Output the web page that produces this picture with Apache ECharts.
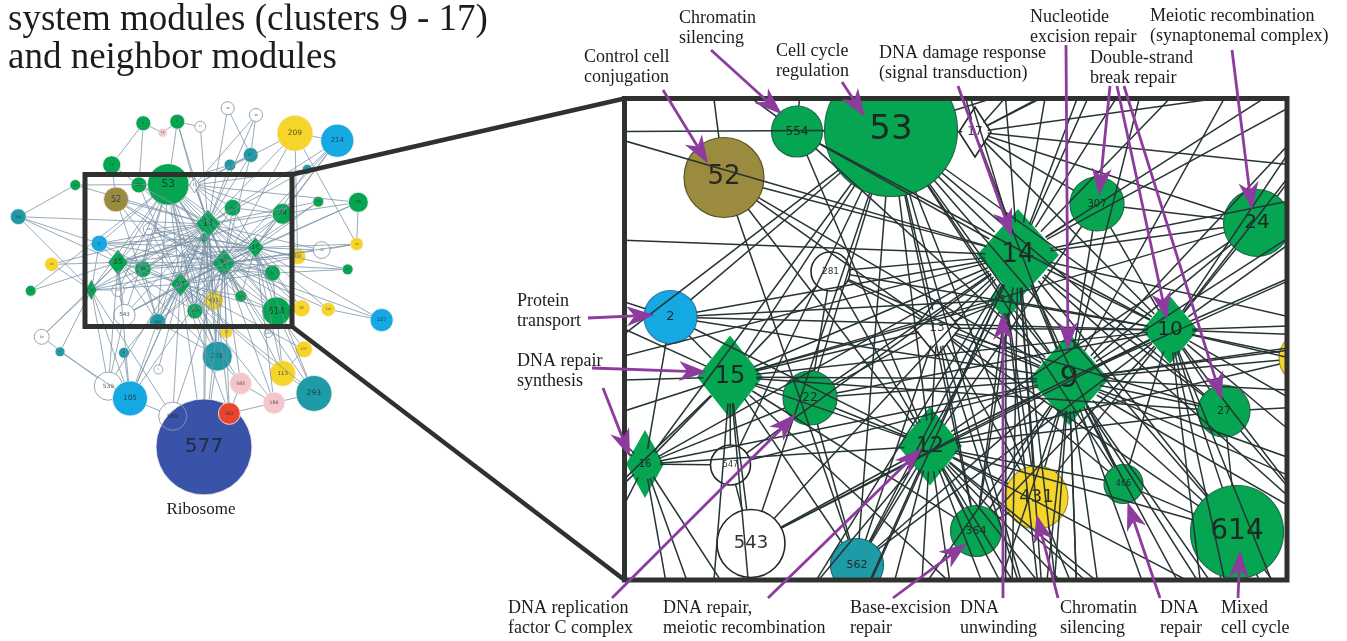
<!DOCTYPE html>
<html>
<head>
<meta charset="utf-8">
<script src="https://cdn.jsdelivr.net/npm/echarts@6/dist/echarts.min.js"></script>
<style>
  html, body { margin: 0; padding: 0; background: #fff; }
  #chart { width: 1347px; height: 641px; }
</style>
</head>
<body>
<div id="chart"></div>
<script>
// Module network of the DNA-repair system modules (clusters 9 - 17) and their neighbours.
// Layout units: pixels of the magnified panel, origin at the panel's top-left corner.

// [label, x, y, size (diameter, or [w, h] for diamonds), group, shape]
const MODULES = [
  ['577', 380.8, 862.9, 307, 'navy'],
  ['569', 280.6, 765.6, 90, 'ring'],
  ['262', 461.8, 757, 70, 'red'],
  ['539', 74.6, 670.5, 90, 'white'],
  ['105', 144, 709.4, 112, 'blue'],
  ['293', 732.8, 693.6, 115, 'teal'],
  ['186', 604.8, 723.4, 70, 'pink'],
  ['583', 498.2, 661.9, 70, 'pink'],
  ['113', 632.6, 630.2, 83, 'yellow'],
  ['137', 700.8, 554.1, 54, 'yellow'],
  ['278', 423.4, 575.4, 96, 'teal'],
  ['263', 586.6, 503.4, 26, 'white'],
  ['7', 234.6, 617.5, 29, 'white'],
  ['41', 124.8, 564.9, 35, 'teal'],
  ['37', -80, 561.7, 32, 'teal'],
  ['89', -138.6, 514.2, 48, 'white'],
  ['227', 949.4, 461.2, 74, 'blue'],
  ['136', 778.6, 427.3, 45, 'yellow'],
  ['82', 693.4, 424.1, 54, 'yellow'],
  ['32', -173.8, 368.4, 35, 'green'],
  ['25', 840.6, 300.5, 35, 'green'],
  ['45', -106.6, 284.7, 45, 'yellow'],
  ['29', 869.4, 220.3, 42, 'yellow'],
  ['30', 757.4, 239.3, 54, 'white'],
  ['196', -213.4, 133.8, 51, 'teal'],
  ['75', 874.6, 88.1, 64, 'green'],
  ['26', 746.6, 86.2, 35, 'green'],
  ['4', 711.4, -16.5, 32, 'teal'],
  ['34', -31, 33.3, 35, 'green'],
  ['5', 464, -30.1, 38, 'teal'],
  ['157', 530.2, -61.8, 48, 'teal'],
  ['214', 807.4, -107.1, 106, 'blue'],
  ['209', 672, -130.6, 115, 'yellow'],
  ['44', 369, -151.5, 35, 'white'],
  ['18', 248.6, -132.5, 29, 'pink'],
  ['8', 295.4, -167.4, 48, 'green'],
  ['6', 186.6, -162.3, 48, 'green'],
  ['38', 547.2, -188.6, 42, 'white'],
  ['46', 456.6, -209.9, 42, 'white'],
  ['21', 85.5, -30.5, 58, 'green'],
  ['53', 266.5, 31.5, 133, 'green'],
  ['554', 172.5, 33, 51, 'green'],
  ['52', 99.5, 79, 80, 'olive'],
  ['281', 206, 173, 39, 'white'],
  ['2', 46, 218.5, 53, 'blue'],
  ['13', 312.5, 229.5, [46, 56], 'white', 'diamond'],
  ['17', 350.5, 33.5, [32, 50], 'white', 'diamond'],
  ['14', 393.5, 156.5, [82, 92], 'green', 'diamond'],
  ['11', 381.5, 201.5, [34, 42], 'green', 'diamond'],
  ['307', 472.5, 105.5, 54, 'green'],
  ['24', 632.5, 124.5, 67, 'green'],
  ['10', 545.5, 231.5, [56, 68], 'green', 'diamond'],
  ['9', 444.5, 280.5, [80, 92], 'green', 'diamond'],
  ['27', 599.5, 312.5, 52, 'green'],
  ['354', 680.5, 259.5, 52, 'yellow'],
  ['431', 412, 399, 63, 'yellow'],
  ['466', 499, 385.5, 39, 'green'],
  ['364', 351.5, 432.5, 51, 'green'],
  ['614', 612.5, 433.5, 93, 'green'],
  ['35', 452.5, 499.5, 40, 'yellow'],
  ['15', 105.5, 278.5, [66, 83], 'green', 'diamond'],
  ['22', 185.5, 299.5, 54, 'green'],
  ['16', 20.5, 365.5, [38, 68], 'green', 'diamond'],
  ['547', 106, 366.5, 40, 'white'],
  ['543', 126.5, 445, 68, 'white'],
  ['562', 232.5, 466.5, 53, 'teal'],
  ['12', 305.5, 347.5, [64, 79], 'green', 'diamond']
];

// Interactions, listed per module: [module, [neighbours]]
const LINKS = [
  ['53', ['9','14','12','13','15','22','364','431','466','614','543','562','10','27','11','17','278','547','2','16','554','5','8']],
  ['34', ['53']],
  ['32', ['53']],
  ['554', ['10','14','12','9','6']],
  ['52', ['9','12','14','13','562']],
  ['2', ['15','9','14','12','10','16','11','196']],
  ['281', ['14','9','10','12','13','15','22']],
  ['15', ['22','9','14','12','10','13','16','547','543','562','364','27','24','45','196','32','89','539','105','278']],
  ['22', ['9','14','12','10','16','13','562']],
  ['16', ['14','9','12','547','196','45','89','37','539','105','569']],
  ['547', ['543','9','14']],
  ['543', ['14','9','12','10','539']],
  ['562', ['12','9','14','10','105','278']],
  ['12', ['9','14','10','13','364','431','466','614','27','24','307','278','577','583','186','113','293','569','105','137','41','7','35','262','354']],
  ['9', ['14','10','11','13','27','24','307','431','466','364','614','354','278','577','113','209','214','75','82','293','186','583','157','30','29','26','262','569','105','17','35','136','227','25']],
  ['14', ['10','11','13','17','307','24','27','431','364','466','614','278','577','209','214','157','5','8','38','26','30','82','105','539','34','196','45','262','46','44','4']],
  ['10', ['307','24','27','614','354','466','431','30','29','25','136','82','227','214','75','26','4','293','113','186','13','17','11','364']],
  ['13', ['431','364','466','27','614','562','278','11']],
  ['17', ['24','307','38','157','8','209','4','75']],
  ['11', ['431','364','562','278','577','15']],
  ['466', ['614']], ['431', ['364','35']], ['27', ['614','25','82']], ['307', ['24']],
  ['6', ['18','21']], ['8', ['18','44']], ['46', ['157']], ['38', ['157']], ['157', ['5']],
  ['209', ['354','214','29']], ['214', ['24','4']], ['75', ['24','29']],
  ['105', ['539','37','569','41']], ['539', ['89']], ['262', ['577','583','186']],
  ['186', ['293','583']], ['113', ['293','614','137']], ['278', ['577','583']],
  ['263', ['614','9']], ['137', ['614']], ['293', ['614']], ['136', ['227']],
  ['30', ['29']], ['21', ['554','52']], ['196', ['34']]
];

// Functional annotations: label lines and the modules they point at
const CALLOUTS = [
  { text: ['Control cell', 'conjugation'], at: [584, 57], arrows: [{ from: [663, 90], to: '52', off: [-16, -14] }] },
  { text: ['Chromatin', 'silencing'], at: [679, 18], arrows: [{ from: [711, 50], to: '554', off: [-15, -17] }] },
  { text: ['Cell cycle', 'regulation'], at: [776, 51], arrows: [{ from: [842, 82], to: '53', off: [-26, -13] }] },
  { text: ['DNA damage response', '(signal transduction)'], at: [879, 53], arrows: [{ from: [958, 86], to: '14', off: [-6, -18] }] },
  { text: ['Nucleotide', 'excision repair'], at: [1030, 17], arrows: [{ from: [1066, 45], to: '9', off: [-1, -29] }] },
  { text: ['Meiotic recombination', '(synaptonemal complex)'], at: [1150, 16], arrows: [{ from: [1232, 50], to: '24', off: [-5, -13] }] },
  { text: ['Double-strand', 'break repair'], at: [1090, 58], arrows: [
      { from: [1110, 86], to: '307', off: [2, -8] },
      { from: [1117, 86], to: '10', off: [-3, -10] },
      { from: [1124, 86], to: '27', off: [-2, -11] }] },
  { text: ['Protein', 'transport'], at: [517, 301], arrows: [{ from: [588, 318], to: '2', off: [-16, -2] }] },
  { text: ['DNA repair', 'synthesis'], at: [517, 361], arrows: [
      { from: [592, 368], to: '15', off: [-23, -5] },
      { from: [603, 388], to: '16', off: [-15, -7] }] },
  { text: ['DNA replication', 'factor C complex'], at: [508, 608], arrows: [{ from: [612, 598], to: '22', off: [-14, 16] }] },
  { text: ['DNA repair,', 'meiotic recombination'], at: [663, 608], arrows: [{ from: [768, 598], to: '12', off: [-8, 2] }] },
  { text: ['Base-excision', 'repair'], at: [850, 608], arrows: [{ from: [893, 598], to: '364', off: [-9, 12] }] },
  { text: ['DNA', 'unwinding'], at: [960, 608], arrows: [{ from: [1003, 598], to: '11', off: [-3, 12] }] },
  { text: ['Chromatin', 'silencing'], at: [1060, 608], arrows: [{ from: [1058, 598], to: '431', off: [0, 17] }] },
  { text: ['DNA', 'repair'], at: [1160, 608], arrows: [{ from: [1160, 598], to: '466', off: [4, 18] }] },
  { text: ['Mixed', 'cell cycle'], at: [1221, 608], arrows: [{ from: [1238, 598], to: '614', off: [3, 18] }] }
];

const TITLE_LINES = ['system modules (clusters 9 - 17)', 'and neighbor modules'];
const OVERVIEW_CAPTION = 'Ribosome';

// ---------- presentation ----------
const PANEL = { left: 624.5, top: 98.5, width: 662.5, height: 481.5 };   // magnified view
const INSET = { left: 85, top: 174.5, width: 207, height: 152 };          // its outline in the overview
const SPAN_X = PANEL.width, SPAN_Y = PANEL.height;

const FILL = {
  green: '#05a552', olive: '#9b8b3e', blue: '#14a9e3', teal: '#1f9ba7', yellow: '#f6d52b',
  pink: '#f2c6ca', red: '#e8452f', navy: '#3853a7', white: '#ffffff', ring: 'rgba(0,0,0,0)'
};
const EDGE_STROKE = {
  green: '#1f6a45', olive: '#5e5327', blue: '#2a7ea6', teal: '#1d6d76', yellow: '#a89428',
  pink: '#c79aa0', red: '#a8321f', navy: '#2c3f80', white: '#262626', ring: '#9a8aa8'
};
const LABEL_PX = {
  '53': 34, '52': 26, '14': 26, '9': 30, '614': 28, '15': 24, '12': 22, '24': 20, '10': 20,
  '431': 18, '543': 18, '2': 13, '22': 12, '27': 11, '307': 10, '554': 12, '364': 11, '466': 8,
  '562': 11, '547': 8, '281': 9, '13': 12, '16': 10, '11': 9, '17': 12, '354': 12, '35': 10, '21': 12
};

const nodes = MODULES.map(m => {
  const s = Array.isArray(m[3]) ? m[3] : [m[3], m[3]];
  return { id: m[0], x: m[1], y: m[2], w: s[0], h: s[1], group: m[4], shape: m[5] || 'circle' };
});
const byId = {};
nodes.forEach(n => { byId[n.id] = n; });

const edges = [];
const seen = {};
LINKS.forEach(([a, list]) => list.forEach(b => {
  const key = a < b ? a + '|' + b : b + '|' + a;
  if (seen[key] || !byId[a] || !byId[b]) return;
  seen[key] = true;
  edges.push([byId[a], byId[b]]);
}));

// links stop at a circle's rim and a little inside a diamond
function trimOf(n) {
  return n.shape === 'diamond' ? 0.4 * Math.min(n.w, n.h) : n.w / 2;
}

function nodeRenderer(isPanel) {
  return function (params, api) {
    const n = nodes[params.dataIndex];
    const p = api.coord([api.value(0), api.value(1)]);
    const k = api.size([1, 1]);
    const w = n.w * k[0], h = n.h * k[1];
    const fill = FILL[n.group];
    let stroke, lw;
    if (isPanel) {
      stroke = n.shape === 'diamond' && n.group !== 'white' ? null : EDGE_STROKE[n.group];
      lw = n.group === 'white' ? 1.6 : 1.2;
    } else {
      stroke = (n.group === 'white' || n.group === 'ring') ? '#8d9dab' : 'rgba(255,240,240,0.9)';
      lw = 0.9;
    }
    let shape;
    if (n.shape === 'diamond') {
      shape = { type: 'polygon', shape: { points: [[p[0], p[1] - h / 2], [p[0] + w / 2, p[1]], [p[0], p[1] + h / 2], [p[0] - w / 2, p[1]]] },
        style: { fill: fill, stroke: stroke, lineWidth: lw } };
    } else {
      shape = { type: 'circle', shape: { cx: p[0], cy: p[1], r: w / 2 },
        style: { fill: fill, stroke: stroke, lineWidth: lw } };
    }
    const fs = (LABEL_PX[n.id] || Math.max(8, 0.21 * n.w)) * k[0];
    return {
      type: 'group',
      children: [shape, {
        type: 'text', x: p[0], y: p[1],
        style: { text: n.id, fontSize: Math.max(fs, 2.2), fontFamily: '"DejaVu Sans", sans-serif',
          fill: '#1e1e1e', align: 'center', verticalAlign: 'middle', opacity: isPanel ? 0.92 : 0.75 }
      }]
    };
  };
}

function edgeRenderer(color, width) {
  return function (params, api) {
    const e = edges[params.dataIndex];
    const a = api.coord([api.value(0), api.value(1)]);
    const b = api.coord([api.value(2), api.value(3)]);
    const k = api.size([1, 1])[0];
    const dx = b[0] - a[0], dy = b[1] - a[1];
    const len = Math.sqrt(dx * dx + dy * dy);
    const ra = trimOf(e[0]) * k, rb = trimOf(e[1]) * k;
    if (len <= ra + rb + 0.5) return null;
    const ux = dx / len, uy = dy / len;
    return {
      type: 'line',
      shape: { x1: a[0] + ux * ra, y1: a[1] + uy * ra, x2: b[0] - ux * rb, y2: b[1] - uy * rb },
      style: { stroke: color, lineWidth: width }
    };
  };
}

// Callout arrows: tails are page positions, tips sit on the modules
const toUnitsX = px => (px - PANEL.left) * SPAN_X / PANEL.width;
const toUnitsY = py => (py - PANEL.top) * SPAN_Y / PANEL.height;
const arrows = [];
CALLOUTS.forEach(c => c.arrows.forEach(a => {
  const n = byId[a.to];
  arrows.push([toUnitsX(a.from[0]), toUnitsY(a.from[1]), n.x + a.off[0], n.y + a.off[1]]);
}));

function arrowRenderer(params, api) {
  const p1 = api.coord([api.value(0), api.value(1)]);
  const p2 = api.coord([api.value(2), api.value(3)]);
  const dx = p2[0] - p1[0], dy = p2[1] - p1[1];
  const len = Math.sqrt(dx * dx + dy * dy);
  const ux = dx / len, uy = dy / len, nx = -uy, ny = ux;
  const L = 28, W = 20, notch = 8;
  const bx = p2[0] - ux * L, by = p2[1] - uy * L;
  const mx = p2[0] - ux * (L - notch), my = p2[1] - uy * (L - notch);
  const color = '#8d3c9e';
  return {
    type: 'group',
    children: [
      { type: 'line', shape: { x1: p1[0], y1: p1[1], x2: mx, y2: my }, style: { stroke: color, lineWidth: 2.8 } },
      { type: 'polygon', shape: { points: [[p2[0], p2[1]], [bx + nx * W / 2, by + ny * W / 2], [mx, my], [bx - nx * W / 2, by - ny * W / 2]] },
        style: { fill: color } }
    ]
  };
}

const nodeData = nodes.map(n => [n.x, n.y]);
const edgeData = edges.map(e => [e[0].x, e[0].y, e[1].x, e[1].y]);

// ---------- text and frames ----------
const SERIF = '"Liberation Serif", "Times New Roman", serif';
const graphics = [];
TITLE_LINES.forEach((t, i) => graphics.push({
  type: 'text', x: 8, y: 20 + i * 38, z: 30,
  style: { text: t, font: '37px ' + SERIF, fill: '#1c1c1c', textAlign: 'left', textVerticalAlign: 'middle' }
}));
CALLOUTS.forEach(c => c.text.forEach((t, i) => graphics.push({
  type: 'text', x: c.at[0], y: c.at[1] + i * 20, z: 30,
  style: { text: t, font: '18px ' + SERIF, fill: '#1c1c1c', textAlign: 'left', textVerticalAlign: 'middle' }
})));
graphics.push({
  type: 'text', x: 201, y: 510, z: 30,
  style: { text: OVERVIEW_CAPTION, font: '17px ' + SERIF, fill: '#1c1c1c', textAlign: 'center', textVerticalAlign: 'middle' }
});
const FRAME_COLOR = '#2e312e';
graphics.push({ type: 'line', z: 10, shape: { x1: INSET.left + INSET.width, y1: INSET.top, x2: PANEL.left, y2: PANEL.top }, style: { stroke: FRAME_COLOR, lineWidth: 4.5 } });
graphics.push({ type: 'line', z: 10, shape: { x1: INSET.left + INSET.width, y1: INSET.top + INSET.height, x2: PANEL.left, y2: PANEL.top + PANEL.height }, style: { stroke: FRAME_COLOR, lineWidth: 4.5 } });
graphics.push({ type: 'rect', z: 11, shape: { x: INSET.left, y: INSET.top, width: INSET.width, height: INSET.height }, style: { fill: 'none', stroke: FRAME_COLOR, lineWidth: 5 } });
graphics.push({ type: 'rect', z: 11, shape: { x: PANEL.left, y: PANEL.top, width: PANEL.width, height: PANEL.height }, style: { fill: 'none', stroke: FRAME_COLOR, lineWidth: 5 } });

const chart = echarts.init(document.getElementById('chart'), null, { renderer: 'canvas' });
chart.setOption({
  animation: false,
  backgroundColor: '#ffffff',
  grid: [
    { left: INSET.left, top: INSET.top, width: INSET.width, height: INSET.height, show: false },
    { left: PANEL.left, top: PANEL.top, width: PANEL.width, height: PANEL.height, show: false }
  ],
  xAxis: [
    { gridIndex: 0, type: 'value', min: 0, max: SPAN_X, show: false },
    { gridIndex: 1, type: 'value', min: 0, max: SPAN_X, show: false }
  ],
  yAxis: [
    { gridIndex: 0, type: 'value', min: 0, max: SPAN_Y, inverse: true, show: false },
    { gridIndex: 1, type: 'value', min: 0, max: SPAN_Y, inverse: true, show: false }
  ],
  graphic: graphics,
  series: [
    { type: 'custom', name: 'overview nodes', xAxisIndex: 0, yAxisIndex: 0, z: 2, clip: false, silent: true,
      renderItem: nodeRenderer(false), data: nodeData },
    { type: 'custom', name: 'overview links', xAxisIndex: 0, yAxisIndex: 0, z: 3, clip: false, silent: true,
      renderItem: edgeRenderer('rgba(120,145,165,0.85)', 0.9), data: edgeData },
    { type: 'custom', name: 'panel nodes', xAxisIndex: 1, yAxisIndex: 1, z: 4, clip: true, silent: true,
      renderItem: nodeRenderer(true), data: nodeData },
    { type: 'custom', name: 'panel links', xAxisIndex: 1, yAxisIndex: 1, z: 5, clip: true, silent: true,
      renderItem: edgeRenderer('#273434', 1.5), data: edgeData },
    { type: 'custom', name: 'callouts', xAxisIndex: 1, yAxisIndex: 1, z: 20, clip: false, silent: true,
      renderItem: arrowRenderer, data: arrows }
  ]
});
</script>
</body>
</html>
